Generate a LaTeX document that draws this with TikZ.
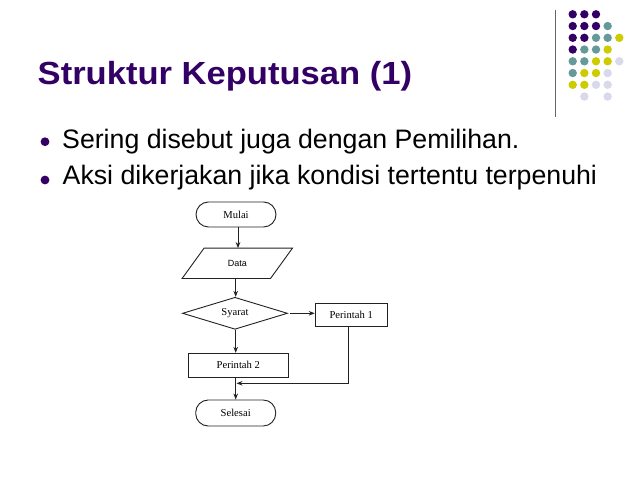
\documentclass[tikz,border=0pt]{standalone}
\usepackage{fontspec}
\setmainfont{Liberation Serif}
\newfontfamily\arialf{Liberation Sans}
\usetikzlibrary{shapes.geometric,arrows.meta}
\definecolor{tpurple}{HTML}{330066}
\definecolor{dteal}{HTML}{669999}
\definecolor{dyellow}{HTML}{CCCC00}
\definecolor{dlav}{HTML}{D9D9EC}
\definecolor{fline}{HTML}{222222}
\tikzset{
  fbox/.style={draw=fline, line width=0.9pt, rectangle, inner sep=0pt, font=\fontsize{10.6}{12}\selectfont},
  terminal/.style={fbox, rounded corners=12.5pt, minimum width=80pt, minimum height=25pt},
  procbox/.style={fbox, minimum height=24pt},
  decision/.style={fbox, diamond, shape aspect=3.3, minimum width=105pt, minimum height=32pt},
  flow/.style={draw=fline, line width=0.9pt, -{Stealth[length=6pt,width=4.6pt]}},
  plainline/.style={draw=fline, line width=0.9pt},
  bullettext/.style={anchor=base west, inner sep=0pt, font=\arialf\fontsize{26.7}{30}\selectfont, text=black},
}
\begin{document}
\begin{tikzpicture}[x=1pt,y=-1pt]
\useasboundingbox (0,0) rectangle (638,478);
\fill[white] (0,0) rectangle (638,478);

% decorative line and dots
\draw[gray!80!black, line width=0.9pt] (555,10) -- (555,117);
\foreach \c/\r/\col in {
 0/0/tpurple,1/0/tpurple,2/0/tpurple,
 0/1/tpurple,1/1/tpurple,2/1/tpurple,3/1/dteal,
 0/2/tpurple,1/2/tpurple,2/2/dteal,3/2/dteal,4/2/dyellow,
 0/3/tpurple,1/3/dteal,2/3/dteal,3/3/dyellow,
 0/4/dteal,1/4/dteal,2/4/dyellow,3/4/dyellow,4/4/dlav,
 0/5/dteal,1/5/dyellow,2/5/dyellow,3/5/dlav,
 0/6/dyellow,1/6/dyellow,2/6/dlav,3/6/dlav,
 1/7/dlav,3/7/dlav}
 { \fill[\col] (572.7+11.65*\c, 14.3+11.75*\r) circle (4.2); }

% title
\node[anchor=base west, inner sep=0pt, text=tpurple, font=\arialf\bfseries\fontsize{32}{36}\selectfont] (title) at (37.5,85) {\scalebox{1.08}[1]{Struktur Keputusan (1)}};

% bullets
\fill[tpurple] (45,141.7) circle (4.4);
\fill[tpurple] (45,180) circle (4.4);
\node[bullettext] (b1) at (62,148.3) {Sering disebut juga dengan Pemilihan.};
\node[bullettext] (b2) at (62.5,185) {Aksi dikerjakan jika kondisi tertentu terpenuhi};

% flowchart
\node[terminal] (mulai) at (236,214.5) {Mulai};
\node[rectangle, inner sep=0pt, minimum width=88pt, minimum height=30pt, font=\arialf\fontsize{9}{11}\selectfont] (data) at (237.3,263.3) {Data};
\draw[plainline] ([xshift=-11pt]data.south west) -- ([xshift=11pt]data.north west) -- ([xshift=11pt]data.north east) -- ([xshift=-11pt]data.south east) -- cycle;
\node[decision] (syarat) at (235,313.3) {\raisebox{-2pt}{Syarat}};
\node[procbox, minimum width=72pt, minimum height=23.4pt] (p1) at (351.2,315) {Perintah 1};
\node[procbox, minimum width=100pt] (p2) at (238.3,365.3) {Perintah 2};
\node[terminal, minimum height=26pt] (selesai) at (235.7,413) {Selesai};
\coordinate (merge) at (236.5,383.3);

\draw[flow] ([xshift=2pt]mulai.south) -- ([xshift=2pt]mulai.south |- data.north);
\draw[flow] ([xshift=-1.6pt]data.south) -- ([xshift=-1.6pt]data.south |- syarat.north);
\draw[flow] ([xshift=0.7pt]syarat.south) -- ([xshift=0.7pt]syarat.south |- p2.north);
\draw[flow] ([xshift=2.5pt]syarat.east) -- (syarat.east -| p1.west);
\draw[flow] ([xshift=-2.6pt]p2.south) -- ([xshift=-2.6pt]p2.south |- selesai.north);
\draw[flow] ([xshift=-3pt]p1.south) |- (merge);
\end{tikzpicture}
\end{document}
